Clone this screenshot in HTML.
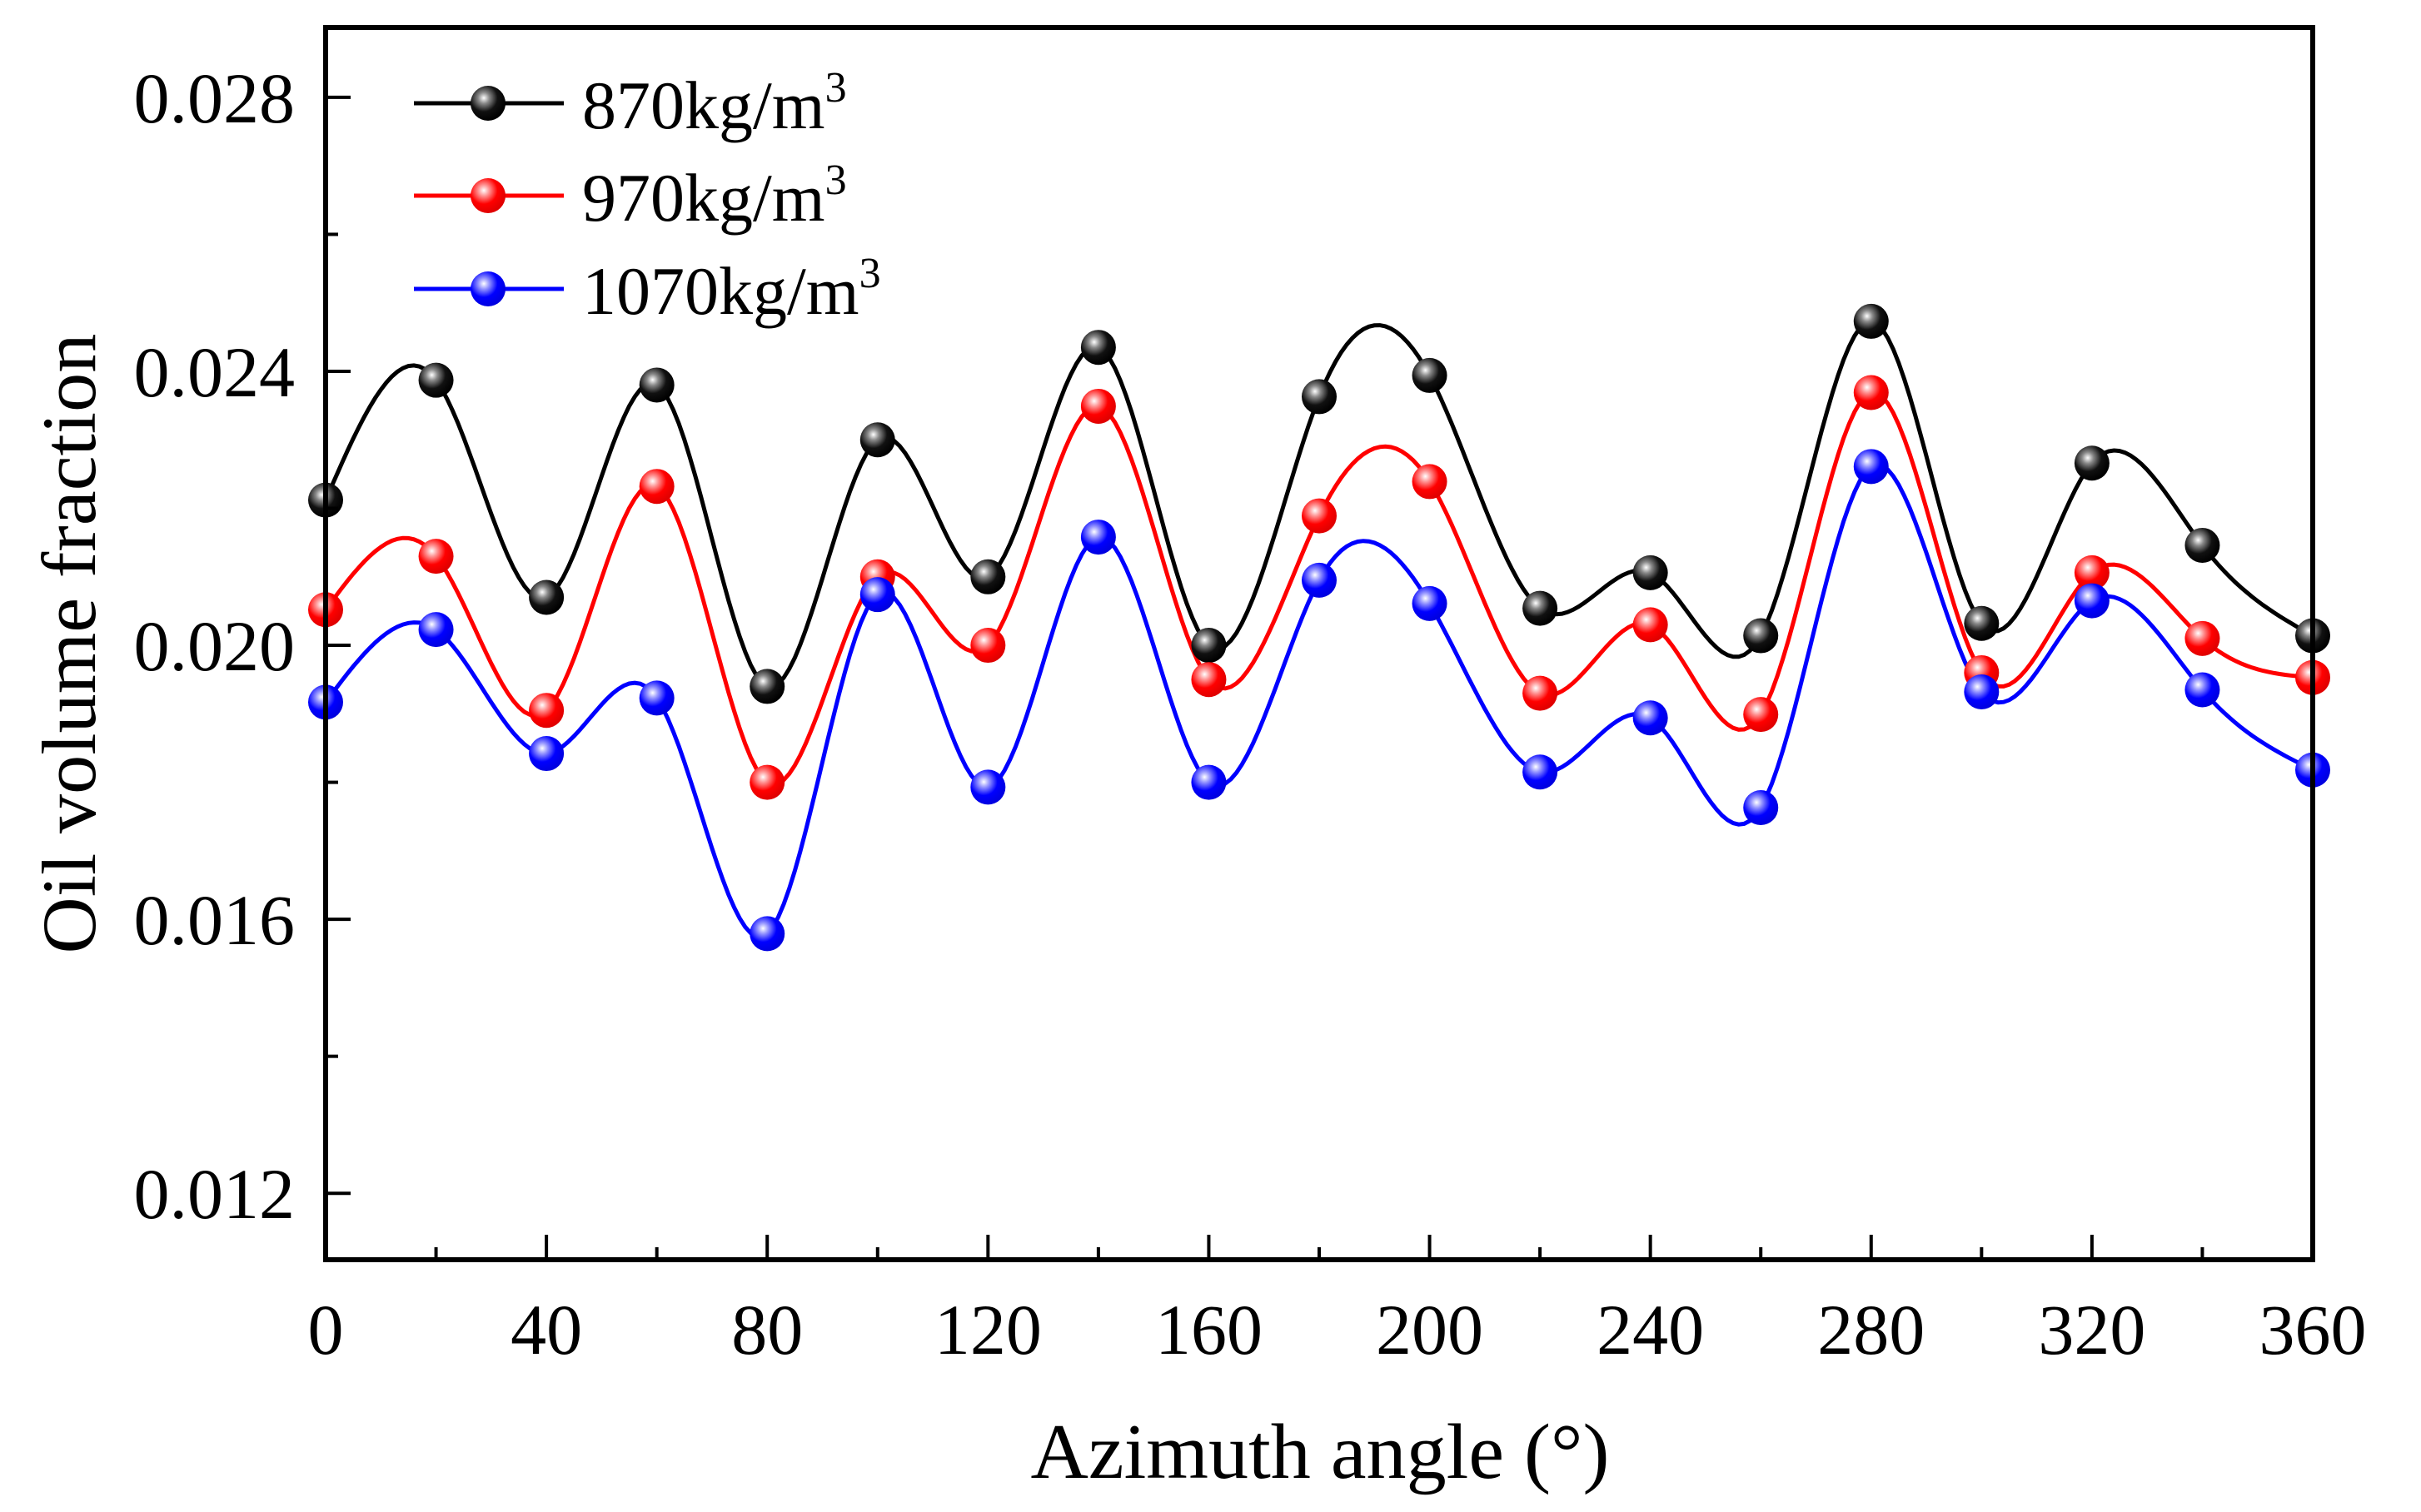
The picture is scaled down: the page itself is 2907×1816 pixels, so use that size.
<!DOCTYPE html>
<html><head><meta charset="utf-8"><style>
html,body{margin:0;padding:0;background:#fff;}
svg{display:block;font-family:"Liberation Serif",serif;}
</style></head><body>
<svg id="chart" width="2907" height="1816" viewBox="0 0 2907 1816" xmlns="http://www.w3.org/2000/svg">
<defs>
<radialGradient id="gk" cx="0.38" cy="0.35" r="0.65"><stop offset="0" stop-color="#fff"/><stop offset="0.25" stop-color="#888"/><stop offset="0.6" stop-color="#111"/><stop offset="1" stop-color="#000"/></radialGradient>
<radialGradient id="gr" cx="0.38" cy="0.35" r="0.65"><stop offset="0" stop-color="#fff"/><stop offset="0.25" stop-color="#ff9090"/><stop offset="0.6" stop-color="#ff0000"/><stop offset="1" stop-color="#e00000"/></radialGradient>
<radialGradient id="gb" cx="0.38" cy="0.35" r="0.65"><stop offset="0" stop-color="#fff"/><stop offset="0.25" stop-color="#9090ff"/><stop offset="0.6" stop-color="#0000ff"/><stop offset="1" stop-color="#0000e0"/></radialGradient>
</defs>
<g id="plot"></g>
<g id="axes"></g>
<text x="0" y="0" transform="translate(114,773) rotate(-90)" text-anchor="middle" font-size="92" textLength="745" lengthAdjust="spacingAndGlyphs">Oil volume fraction</text>
<text x="1585" y="1775" text-anchor="middle" font-size="94" textLength="695" lengthAdjust="spacingAndGlyphs">Azimuth angle (°)</text>
<g id="legend"></g>
</svg>
<script>
const angles = [0,20,40,60,80,100,120,140,160,180,200,220,240,260,280,300,320,340,360];
const s870 = [0.02212,0.02387,0.0207,0.0238,0.0194,0.0230,0.0210,0.02435,0.0200,0.02363,0.02394,0.02054,0.02106,0.02014,0.02473,0.02032,0.02266,0.02146,0.02014];
const s970 = [0.02052,0.0213,0.01905,0.02232,0.0180,0.0210,0.0200,0.02349,0.0195,0.02189,0.02239,0.0193,0.0203,0.01899,0.02369,0.0196,0.02106,0.0201,0.01953];
const s1070 = [0.01917,0.02023,0.01842,0.01923,0.01579,0.02074,0.01793,0.02158,0.0180,0.02095,0.02061,0.01815,0.01894,0.01763,0.02261,0.01932,0.02065,0.01935,0.01818];
const xTicks = [0,40,80,120,160,200,240,280,320,360];
const yTicks = [0.012,0.016,0.020,0.024,0.028];
const seriesLabels = ["870kg/m","970kg/m","1070kg/m"];

const NS="http://www.w3.org/2000/svg";
const L=391,R=2777,T=33,B=1513;
const xMin=0,xMax=360,yMin=0.01103,yMax=0.02902;
const X=v=>L+(v-xMin)/(xMax-xMin)*(R-L);
const Y=v=>B-(v-yMin)/(yMax-yMin)*(B-T);
function mk(tag,attrs,parent){const e=document.createElementNS(NS,tag);for(const k in attrs)e.setAttribute(k,attrs[k]);parent.appendChild(e);return e;}
function spline(xs,ys){const n=xs.length,h=[],a=[],l=[1],mu=[0],z=[0],c=new Array(n).fill(0),b=[],d=[];
for(let i=0;i<n-1;i++)h.push(xs[i+1]-xs[i]);
for(let i=1;i<n-1;i++)a[i]=3/h[i]*(ys[i+1]-ys[i])-3/h[i-1]*(ys[i]-ys[i-1]);
for(let i=1;i<n-1;i++){l[i]=2*(xs[i+1]-xs[i-1])-h[i-1]*mu[i-1];mu[i]=h[i]/l[i];z[i]=(a[i]-h[i-1]*z[i-1])/l[i];}
for(let j=n-2;j>=0;j--){c[j]=(j>0?z[j]:0)-mu[j]*c[j+1];if(j===0)c[0]=0;b[j]=(ys[j+1]-ys[j])/h[j]-h[j]*(c[j+1]+2*c[j])/3;d[j]=(c[j+1]-c[j])/(3*h[j]);}
return t=>{let i=Math.min(n-2,Math.max(0,Math.floor((t-xs[0])/h[0])));const dx=t-xs[i];return ys[i]+b[i]*dx+c[i]*dx*dx+d[i]*dx*dx*dx;};}
const plot=document.getElementById('plot');
const series=[[s870,'#000','gk','series-870'],[s970,'#ff0000','gr','series-970'],[s1070,'#0000ff','gb','series-1070']];
series.forEach(([vals,col,grad,name])=>{
  const f=spline(angles,vals);let d='';
  for(let t=0;t<=360;t+=1){d+=(t?'L':'M')+X(t).toFixed(1)+','+Y(f(t)).toFixed(1);}
  const p=mk('path',{d:d,fill:'none',stroke:col,'stroke-width':5},plot);
  
  
});
series.forEach(([vals,col,grad,name])=>{
  angles.forEach((a,i)=>{
    const c=mk('circle',{cx:X(a),cy:Y(vals[i]),r:21,fill:'url(#'+grad+')'},plot);
    
    
  });
});
const axes=document.getElementById('axes');
const frame=mk('rect',{x:L,y:T,width:R-L,height:B-T,fill:'none',stroke:'#000','stroke-width':6},axes);


for(let v=0;v<=360;v+=20){
  const major=v%40===0;
  const t=mk('line',{x1:X(v),x2:X(v),y1:B,y2:B-(major?30:15),stroke:'#000','stroke-width':4},axes);
  
  
}
xTicks.forEach(v=>{
  const t=mk('text',{x:X(v),y:1626,'text-anchor':'middle','font-size':86},axes);t.textContent=v;
  
  
});
for(let k=0;k<9;k++){
  const v=0.012+k*0.002;const major=k%2===0;
  const t=mk('line',{x1:L,x2:L+(major?30:15),y1:Y(v),y2:Y(v),stroke:'#000','stroke-width':4},axes);
  
  
}
yTicks.forEach(v=>{
  const t=mk('text',{x:354,y:Y(v)+30,'text-anchor':'end','font-size':86},axes);t.textContent=v.toFixed(3);
  
  
});
const lg=document.getElementById('legend');
const ly=[124,235,347];
series.forEach(([vals,col,grad,name],i)=>{
  const ln=mk('line',{x1:497,x2:677,y1:ly[i],y2:ly[i],stroke:col,'stroke-width':5},lg);
  
  
  const c=mk('circle',{cx:586,cy:ly[i],r:21,fill:'url(#'+grad+')'},lg);
  
  
  const t=mk('text',{x:699,y:ly[i]+30,'font-size':82},lg);
  t.textContent=seriesLabels[i];
  const s=mk('tspan',{dy:-32,'font-size':52},t);s.textContent='3';
  
  
});
</script>
</body></html>
